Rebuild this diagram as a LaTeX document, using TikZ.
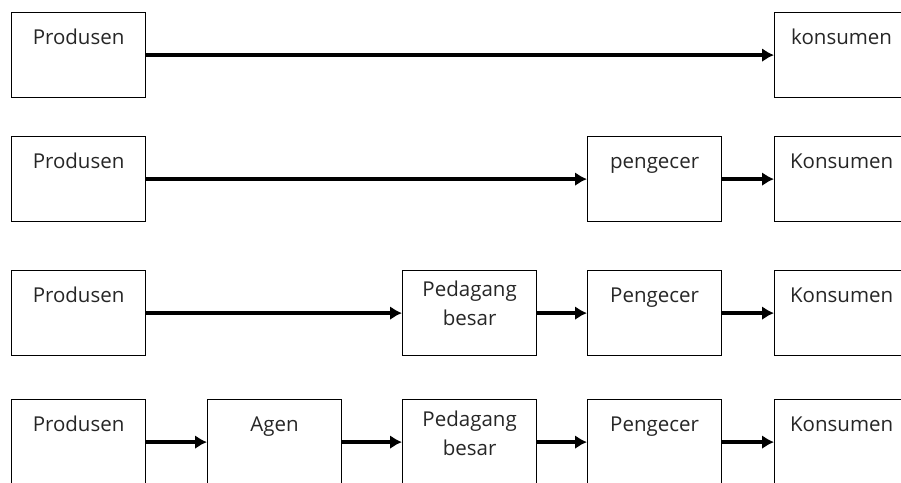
\documentclass[tikz,border=0pt]{standalone}
\usepackage{fontspec}
\setmainfont{Open Sans}
\usetikzlibrary{arrows.meta}
\begin{document}
\begin{tikzpicture}[x=1pt,y=-1pt,
 box/.style={draw=black, line width=1.2pt, minimum width=134pt, minimum height=85pt, inner sep=0pt, anchor=north west},
 lbl/.style={font=\fontsize{20.5}{29}\selectfont, text=black!85, anchor=base, align=center, inner sep=0pt},
 flow/.style={line width=3.3pt, -{Latex[length=12pt,width=14pt]}}]
\path[use as bounding box] (0,0) rectangle (901,482);
\clip (0,0) rectangle (901,482);
% row 1
\node[box] (r1p) at (11,12) {};
\node[box] (r1k) at (774,12) {};
\node[lbl] (l1p) at ([yshift=-32pt]r1p.north) {Produsen};
\node[lbl] (l1k) at ([yshift=-32pt]r1k.north) {konsumen};
\draw[flow] (r1p.east) -- (r1k.west);
% row 2
\node[box] (r2p) at (11,136) {};
\node[box] (r2g) at (587,136) {};
\node[box] (r2k) at (774,136) {};
\node[lbl] (l2p) at ([yshift=-32pt]r2p.north) {Produsen};
\node[lbl] (l2g) at ([yshift=-32pt]r2g.north) {pengecer};
\node[lbl] (l2k) at ([yshift=-32pt]r2k.north) {Konsumen};
\draw[flow] (r2p.east) -- (r2g.west);
\draw[flow] (r2g.east) -- (r2k.west);
% row 3
\node[box] (r3p) at (11,270) {};
\node[box] (r3b) at (402,270) {};
\node[box] (r3g) at (587,270) {};
\node[box] (r3k) at (774,270) {};
\node[lbl] (l3p) at ([yshift=-32pt]r3p.north) {Produsen};
\node[lbl] (l3b) at ([yshift=-55pt]r3b.north) {Pedagang\\besar};
\node[lbl] (l3g) at ([yshift=-32pt]r3g.north) {Pengecer};
\node[lbl] (l3k) at ([yshift=-32pt]r3k.north) {Konsumen};
\draw[flow] (r3p.east) -- (r3b.west);
\draw[flow] (r3b.east) -- (r3g.west);
\draw[flow] (r3g.east) -- (r3k.west);
% row 4
\node[box] (r4p) at (11,399) {};
\node[box] (r4a) at (207,399) {};
\node[box] (r4b) at (402,399) {};
\node[box] (r4g) at (587,399) {};
\node[box] (r4k) at (774,399) {};
\node[lbl] (l4p) at ([yshift=-32pt]r4p.north) {Produsen};
\node[lbl] (l4a) at ([yshift=-32pt]r4a.north) {Agen};
\node[lbl] (l4b) at ([yshift=-56pt]r4b.north) {Pedagang\\besar};
\node[lbl] (l4g) at ([yshift=-32pt]r4g.north) {Pengecer};
\node[lbl] (l4k) at ([yshift=-32pt]r4k.north) {Konsumen};
\draw[flow] (r4p.east) -- (r4a.west);
\draw[flow] (r4a.east) -- (r4b.west);
\draw[flow] (r4b.east) -- (r4g.west);
\draw[flow] (r4g.east) -- (r4k.west);
\end{tikzpicture}
\end{document}
